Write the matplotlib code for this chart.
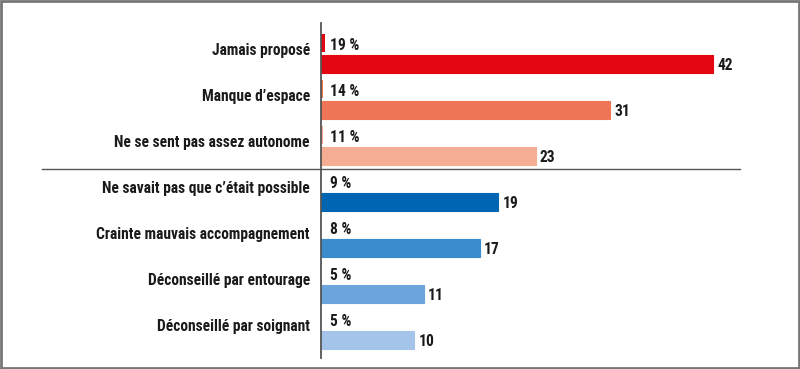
import numpy as np
import matplotlib
matplotlib.use("Agg")
import matplotlib.pyplot as plt
from matplotlib.lines import Line2D
from matplotlib.patches import Rectangle

plt.rcParams['font.family'] = ['Roboto Condensed', 'Archivo Narrow', 'DejaVu Sans']

categories = ["Jamais proposé", "Manque d’espace", "Ne se sent pas assez autonome",
              "Ne savait pas que c’était possible", "Crainte mauvais accompagnement",
              "Déconseillé par entourage", "Déconseillé par soignant"]
counts = [42, 31, 23, 19, 17, 11, 10]
pct = [19, 14, 11, 9, 8, 5, 5]
thin = [0.4, 0.25, 0.2, 0, 0, 0, 0]
colors = ["#E30613", "#EE7556", "#F5AD93", "#0066B3", "#398BCC", "#6BA5DB", "#A4C4EA"]

W, H = 800, 369
fig = plt.figure(figsize=(W / 100, H / 100), dpi=100)

# axes placed so that x=0 sits at px 321 and 42 at px 713
x0, px_per = 321, (713 - 321) / 42
xmax = 50
y_top, y_bot = 23, 358
row0, step = 64, 46
ax = fig.add_axes([x0 / W, 1 - y_bot / H, xmax * px_per / W, (y_bot - y_top) / H])
ax.set_xlim(0, xmax)
ax.set_ylim((y_bot - row0) / step, (y_top - row0) / step)

y = np.arange(len(categories))
bh = 18 / step
ax.barh(y, counts, height=bh, color=colors, edgecolor=colors, linewidth=0.8)
ax.barh(y - 21 / step, thin, height=bh, color=colors, linewidth=0)

fs = 11.2
for i in range(len(categories)):
    ax.text(counts[i] + 0.45, y[i] + 0.04, str(counts[i]), ha='left', va='center',
            fontsize=fs, fontweight='semibold', color='#1a1a1a')
    ax.text(1.0, y[i] - 0.4, f"{pct[i]} %", ha='left', va='center',
            fontsize=fs, fontweight='semibold', color='#1a1a1a')
    ax.text(-(x0 - 310) / px_per, y[i] - 0.3, categories[i], ha='right', va='center',
            fontsize=fs, fontweight='semibold', color='#1a1a1a', clip_on=False)

for s in ['top', 'right', 'bottom']:
    ax.spines[s].set_visible(False)
ax.spines['left'].set_color('#555555')
ax.spines['left'].set_linewidth(1.3)
ax.set_xticks([])
ax.set_yticks([])

# separator between the two groups
sep = 1 - 169 / H
fig.add_artist(Line2D([42 / W, 740 / W], [sep, sep], color='#555555', lw=1.0))
# frame
fig.add_artist(Rectangle((0.001, 0.002), 0.998, 0.996, fill=False,
                         edgecolor='#777777', lw=2, transform=fig.transFigure))

fig.savefig("out.png", dpi=100)
